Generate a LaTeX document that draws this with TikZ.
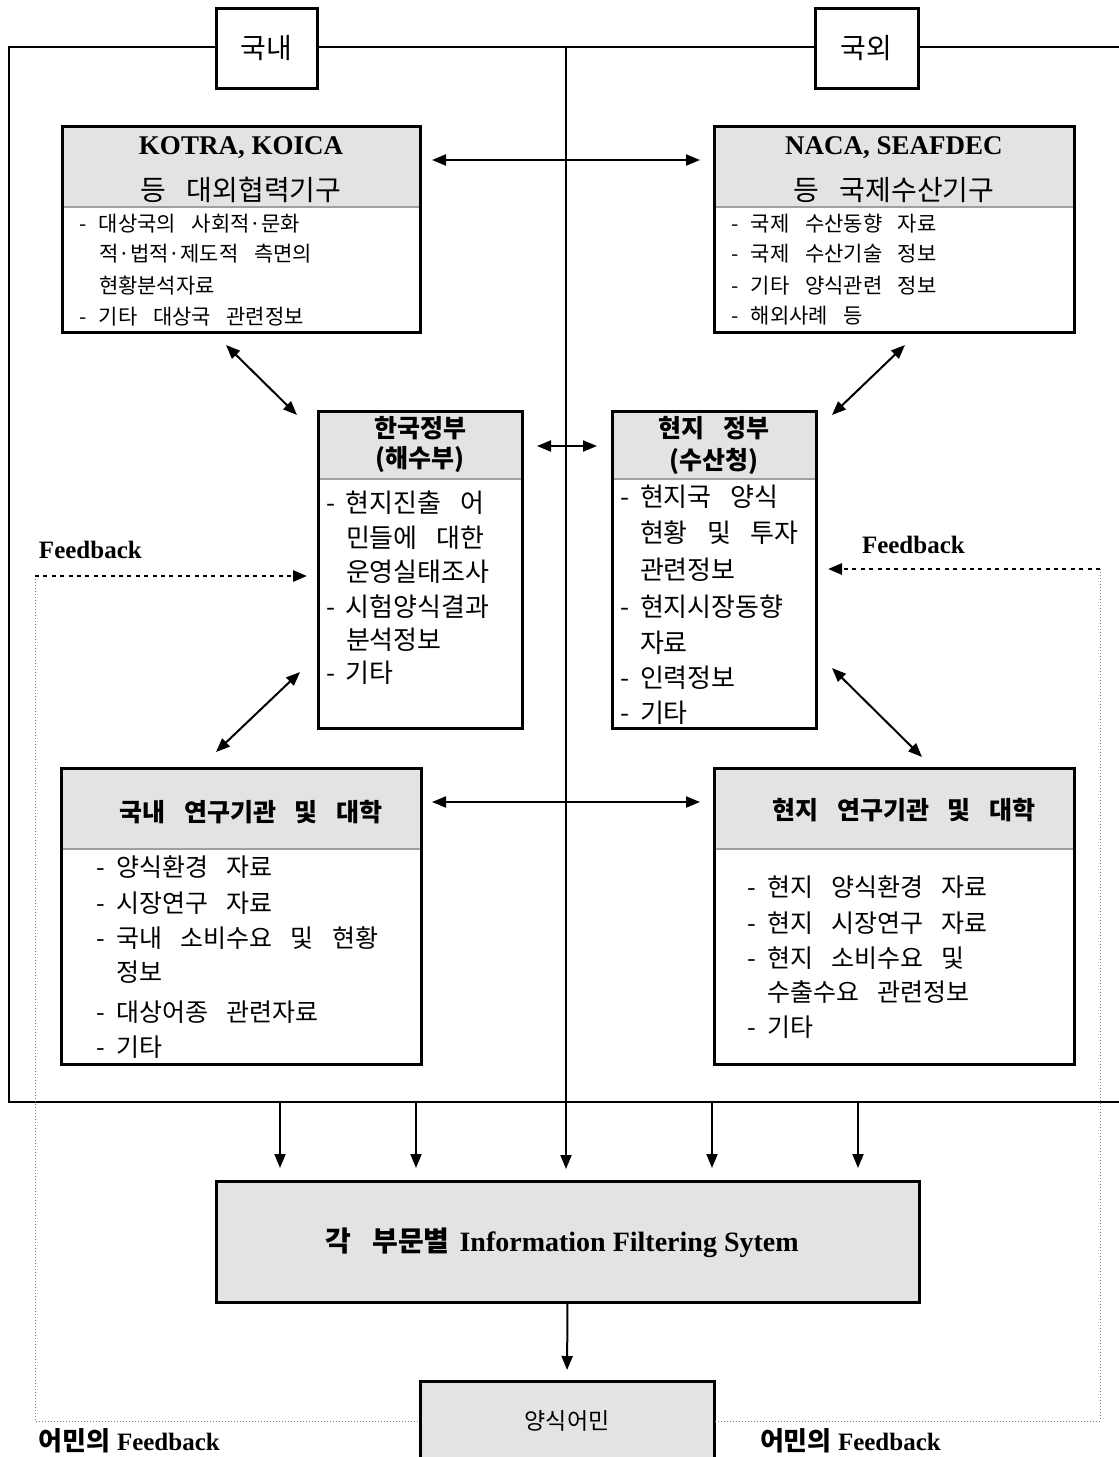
\documentclass[tikz,border=0pt]{standalone}
\usepackage{fontspec}
\setmainfont{Liberation Serif}
\newfontfamily\kr[WordSpace=3.3]{Noto Sans CJK KR}
\usetikzlibrary{arrows.meta,calc,fit}
\definecolor{hdr}{RGB}{227,227,227}
% bullet dash and hanging indent for list lines
\newcommand\di{\makebox[10pt][l]{-}}
\newcommand\ind{\hspace*{10pt}}

\tikzset{
  every node/.style={inner sep=0pt, outer sep=0pt},
  frame/.style={draw, line width=1.5pt},
  hdrfill/.style={fill=hdr, draw=gray!75, line width=0.6pt},
  tag/.style={draw, fill=white, line width=1.5pt},
  conn/.style={line width=1pt},
  tip/.tip={Triangle[length=7pt,width=5.5pt]},
  arr/.style={conn, -tip},
  darr/.style={conn, tip-tip},
  fbarr/.style={line width=1.4pt, dash pattern=on 2pt off 2.2pt, -tip},
  fbline/.style={draw=gray, line width=0.5pt, densely dotted},
  smalltxt/.style={anchor=west, font=\kr\fontsize{10.5}{12}\selectfont},
  bigtxt/.style={anchor=west, font=\kr\fontsize{13}{15}\selectfont},
  midtxt/.style={anchor=west, font=\kr\fontsize{12.5}{14}\selectfont},
  hkr/.style={font=\kr\fontsize{14}{16}\selectfont},
  hkrb/.style={font=\kr\bfseries\fontsize{12.5}{15}\selectfont},
  hlat/.style={font=\bfseries\fontsize{13.5}{16}\selectfont},
  fbtxt/.style={anchor=west, font=\bfseries\fontsize{12.5}{15}\selectfont}
}

\begin{document}
\begin{tikzpicture}[x=0.5pt,y=-0.5pt]
\useasboundingbox (0,0) rectangle (1119,1457);
\clip (0,0) rectangle (1119,1457);

% ---- outer frame (domestic / overseas) ----
\coordinate (ftl) at (9,47);
\coordinate (ftr) at (1130,47);
\coordinate (fbl) at (9,1102);
\coordinate (fbr) at (1130,1102);
\coordinate (ctop) at (566,47);
\draw[line width=1.2pt] (ftr) -- (ftl) -- (fbl) -- (fbr);

\node[tag, fit={(216,8)(317,88)}] (dom) {};
\node[hkr] (domt) at (dom.center) {국내};
\node[tag, fit={(815,8)(918,88)}] (abr) {};
\node[hkr] (abrt) at (abr.center) {국외};

% ---- KOTRA / KOICA ----
\node[hdrfill, fit={(62,126)(420,207)}] (kotrah) {};
\node[frame, fit={(62,126)(420,332)}] (kotra) {};
\node[hlat] (kotra-t1) at (241,148) {KOTRA, KOICA};
\node[hkr] (kotra-t2) at (241,190) {등 대외협력기구};
\foreach \ty/\tx [count=\i] in {224/{\di 대상국의 사회적·문화},254/{\ind 적·법적·제도적 측면의},286/{\ind 현황분석자료},317/{\di 기타 대상국 관련정보}}
  \node[smalltxt] (kotra-b\i) at (79,\ty) {\tx};

% ---- NACA / SEAFDEC ----
\node[hdrfill, fit={(714,126)(1074,207)}] (nacah) {};
\node[frame, fit={(714,126)(1074,332)}] (naca) {};
\node[hlat] (naca-t1) at (894,148) {NACA, SEAFDEC};
\node[hkr] (naca-t2) at (894,190) {등 국제수산기구};
\foreach \ty/\tx [count=\i] in {224/{\di 국제 수산동향 자료},254/{\di 국제 수산기술 정보},286/{\di 기타 양식관련 정보},316/{\di 해외사례 등}}
  \node[smalltxt] (naca-b\i) at (731,\ty) {\tx};

% ---- Korean government ----
\node[hdrfill, fit={(318,411)(522,479)}] (hgovh) {};
\node[frame, fit={(318,411)(522,728)}] (hgov) {};
\node[hkrb] (hgov-t1) at (420,428) {한국정부};
\node[hkrb] (hgov-t2) at (420,460) {(해수부)};
\foreach \ty/\tx [count=\i] in {503/{\di 현지진출 어},538/{\ind 민들에 대한},572/{\ind 운영실태조사},607/{\di 시험양식결과},640/{\ind 분석정보},673/{\di 기타}}
  \node[bigtxt] (hgov-b\i) at (326,\ty) {\tx};

% ---- local government ----
\node[hdrfill, fit={(612,411)(816,479)}] (lgovh) {};
\node[frame, fit={(612,411)(816,728)}] (lgov) {};
\node[hkrb] (lgov-t1) at (714,428) {현지 정부};
\node[hkrb] (lgov-t2) at (714,461) {(수산청)};
\foreach \ty/\tx [count=\i] in {497/{\di 현지국 양식},533/{\ind 현황 및 투자},570/{\ind 관련정보},607/{\di 현지시장동향},643/{\ind 자료},678/{\di 인력정보},713/{\di 기타}}
  \node[bigtxt] (lgov-b\i) at (620,\ty) {\tx};

% ---- domestic research ----
\node[hdrfill, fit={(61,768)(421,849)}] (drsh) {};
\node[frame, fit={(61,768)(421,1064)}] (drs) {};
\node[hkrb] (drs-t) at (251,812) {국내 연구기관 및 대학};
\foreach \ty/\tx [count=\i] in {867/{\di 양식환경 자료},903/{\di 시장연구 자료},938/{\di 국내 소비수요 및 현황},972/{\ind 정보},1012/{\di 대상어종 관련자료},1047/{\di 기타}}
  \node[midtxt] (drs-b\i) at (96,\ty) {\tx};

% ---- local research ----
\node[hdrfill, fit={(714,768)(1074,849)}] (frsh) {};
\node[frame, fit={(714,768)(1074,1064)}] (frs) {};
\node[hkrb] (frs-t) at (904,810) {현지 연구기관 및 대학};
\foreach \ty/\tx [count=\i] in {887/{\di 현지 양식환경 자료},923/{\di 현지 시장연구 자료},958/{\di 현지 소비수요 및},992/{\ind 수출수요 관련정보},1027/{\di 기타}}
  \node[midtxt] (frs-b\i) at (747,\ty) {\tx};

% ---- filtering system and farmers ----
\node[fill=hdr, frame, fit={(216,1181)(919,1302)}] (filter) {};
\node (filter-t) at (562,1243) {{\kr\bfseries\fontsize{14}{17}\selectfont 각 부문별}\hspace{5pt}{\bfseries\fontsize{14}{17}\selectfont Information Filtering Sytem}};
\node[fill=hdr, frame, fit={(420,1381)(714,1480)}] (farm) {};
\node[font=\kr\fontsize{11.5}{14}\selectfont] (farm-t) at (567,1421) {양식어민};

% ---- connectors ----
\draw[darr] ($(kotra.north east)+(12,34)$) -- ($(naca.north west)+(-14,34)$);
\draw[darr] ($(hgov.north east)+(15,35)$) -- ($(lgov.north west)+(-15,35)$);
\draw[darr] ($(drs.north east)+(11,34)$) -- ($(frs.north west)+(-14,34)$);

\draw[darr] ($(kotra.south west)+(164,13)$) -- ($(hgov.north west)+(-21,4)$);
\draw[darr] ($(naca.south west)+(191,13)$) -- ($(lgov.north east)+(16,4)$);
\draw[darr] ($(hgov.south west)+(-18,-56)$) -- ($(drs.north west)+(155,-16)$);
\draw[darr] ($(lgov.south east)+(16,-60)$) -- ($(frs.north west)+(208,-11)$);

\draw[arr, shorten >=6pt] (ctop) -- (ctop |- filter.north);
\foreach \xx [count=\i] in {280,416,712,858} {
  \coordinate (drop\i) at (\xx,1102);
  \draw[arr, shorten >=6.5pt] (drop\i) -- (drop\i |- filter.north);
}
\draw[arr, shorten >=5.5pt] (filter.south) -- (farm.north);

% ---- feedback loops ----
\coordinate (fbl0) at (35,576);
\coordinate (fbl1) at (35,1421);
\coordinate (fbr0) at (1100,569);
\coordinate (fbr1) at (1100,1421);
\draw[fbline] (fbl0) -- (fbl1) -- (fbl1 -| farm.west);
\draw[fbline] (fbr0) -- (fbr1) -- (fbr1 -| farm.east);
\draw[fbarr, shorten >=5.5pt] (fbl0) -- (fbl0 -| hgov.west);
\draw[fbarr, shorten >=6pt] (fbr0) -- (fbr0 -| lgov.east);

\node[fbtxt] (fb-l) at (39,550) {Feedback};
\node[fbtxt] (fb-r) at (862,545) {Feedback};
\node[fbtxt] (fb-bl) at (39,1441) {{\kr\fontsize{13}{15}\selectfont 어민의} Feedback};
\node[fbtxt] (fb-br) at (760,1441) {{\kr\fontsize{13}{15}\selectfont 어민의} Feedback};
\end{tikzpicture}
\end{document}
